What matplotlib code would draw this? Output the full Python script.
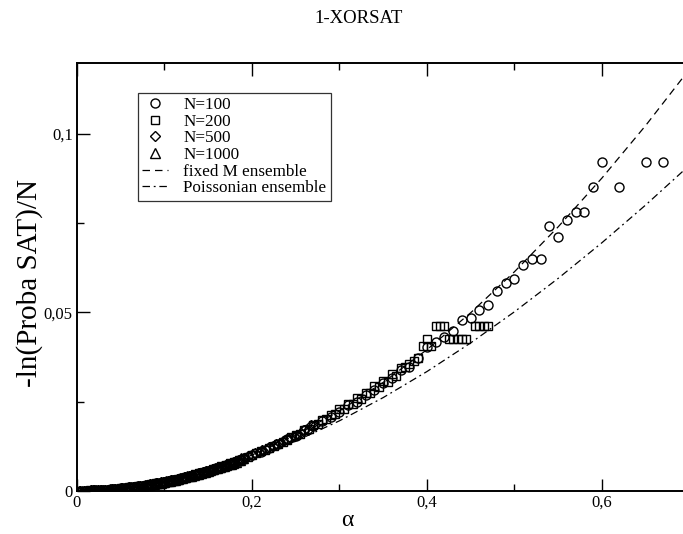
import numpy as np
import matplotlib
matplotlib.use("Agg")
import matplotlib.pyplot as plt
from matplotlib.ticker import FixedLocator, FuncFormatter

plt.rcParams['font.family'] = ['Liberation Serif', 'DejaVu Serif']

# theory curves (alpha, -ln P / N)
alpha_th = [0.0, 0.05, 0.10, 0.15, 0.20, 0.25, 0.30, 0.35, 0.40, 0.45, 0.50,
            0.55, 0.60, 0.65, 0.70]
fixed_m = [0.0, 0.000625, 0.002499, 0.005617, 0.009974, 0.015560, 0.022363,
           0.030367, 0.039553, 0.049903, 0.061393, 0.073996, 0.087674,
           0.102412, 0.118192]
poisson = [0.0, 0.000609, 0.002382, 0.005236, 0.009097, 0.013903, 0.019593,
           0.026112, 0.033411, 0.041443, 0.050166, 0.059543, 0.069538,
           0.080119, 0.091247]

# simulations, values in units of 1e-3; alpha = M/N
# N=100, every M
n100 = [0.025, 0.1, 0.22, 0.41, 0.62, 0.9, 1.22, 1.61, 2.02, 2.5,
        3.02, 3.61, 4.21, 4.91, 5.6, 6.4, 7.2, 8.1, 8.95, 9.98,
        10.9, 12.1, 13.1, 14.4, 15.4, 16.9, 18.0, 19.6, 20.7, 22.1,
        23.9, 25.0, 26.9, 28.3, 30.1, 31.5, 33.8, 34.7, 37.2, 40.2,
        41.8, 43.2, 44.8, 47.9, 48.3, 50.7, 52.1, 56.0, 58.3, 59.3,
        63.3, 64.9, 65.0, 74.1, 71.2, 75.9, 78.2, 78.2, 85.2, 92.1,
        np.nan, 85.2, np.nan, np.nan, 92.1, np.nan, 92.1]
# N=200, every M
n200 = [0.006, 0.025, 0.056, 0.1, 0.156, 0.225, 0.306, 0.4, 0.506, 0.625,
        0.756, 0.9, 1.056, 1.225, 1.406, 1.6, 1.806, 2.025, 2.256, 2.5,
        2.756, 3.025, 3.306, 3.6, 3.906, 4.225, 4.556, 4.9, 5.256, 5.62,
        5.99, 6.39, 6.79, 7.21, 7.64, 8.08, 8.54, 9.0, 9.48, 9.97,
        10.47, 10.99, 11.52, 12.06, 12.61, 13.17, 13.75, 14.34, 14.94, 15.7,
        16.0, 16.9, 17.4, 18.3, 18.7, 19.7, 20.0, 21.2, 21.4, 22.8,
        22.9, 24.3, 24.4, 25.9, 25.8, 27.5, 27.4, 29.3, 29.0, 30.8,
        30.6, 32.6, 32.2, 34.5, 34.54, 35.65, 36.32, 37.09, 40.6, 42.6,
        40.6, 46.05, 46.05, 46.05, 42.6, 42.6, 42.6, 42.6, 42.6, np.nan,
        46.05, 46.05, 46.05, 46.05]
# N=500, every second M
n500 = [0.004, 0.016, 0.037, 0.063, 0.101, 0.143, 0.197, 0.255, 0.326, 0.398,
        0.486, 0.574, 0.679, 0.781, 0.903, 1.021, 1.16, 1.29, 1.45, 1.59,
        1.77, 1.93, 2.12, 2.30, 2.51, 2.70, 2.92, 3.13, 3.37, 3.59,
        3.85, 4.09, 4.36, 4.61, 4.91, 5.17, 5.49, 5.76, 6.10, 6.38,
        6.74, 7.03, 7.42, 7.71, 8.13, 8.43, 8.87, 9.18, 9.65, 9.95,
        10.46, 10.75, 11.30, 11.60, 12.16, 12.53, 13.0, 13.45, 13.82, 14.53,
        14.84, 15.20, 15.65, 16.22, 17.03, 17.03, 18.42, 18.42]
# N=1000, every second M
n1000 = [0.001, 0.004, 0.009, 0.016, 0.026, 0.035, 0.050, 0.063, 0.082, 0.099,
         0.122, 0.143, 0.171, 0.195, 0.227, 0.254, 0.291, 0.322, 0.364, 0.398,
         0.444, 0.481, 0.532, 0.573, 0.629, 0.672, 0.733, 0.780, 0.846, 0.895,
         0.967, 1.018, 1.095, 1.150, 1.232, 1.289, 1.377, 1.437, 1.530, 1.592,
         1.690, 1.755, 1.860, 1.926, 2.036, 2.105, 2.221, 2.292, 2.414, 2.488,
         2.615, 2.691, 2.824, 2.902, 3.040, 3.121, 3.265, 3.347, 3.497, 3.582,
         3.738, 3.825, 3.986, 4.076, 4.242, 4.334, 4.506, 4.600, 4.778, 4.874,
         5.058, 5.155, 5.345, 5.444, 5.640, 5.741, 5.942, 6.046, 6.252, 6.357,
         6.570, 6.676, 6.91, 6.91, 7.13, 7.42, 7.60, 7.60, 7.82, 8.11,
         8.11, 8.52, 8.52, 9.21, 9.21]

series = [
    ("N=100", n100, 1 / 100, "o", 6.5),
    ("N=200", n200, 1 / 200, "s", 5.5),
    ("N=500", n500, 2 / 500, "D", 5.0),
    ("N=1000", n1000, 2 / 1000, "^", 6.5),
]

fig = plt.figure(figsize=(6.83, 5.34), dpi=100)
ax = fig.add_axes([0.1127, 0.0811, 0.8968, 0.8015])

for label, vals, step, mk, ms in series:
    v = np.array(vals) * 1e-3
    a = np.arange(1, len(v) + 1) * step
    ax.plot(a, v, linestyle="none", marker=mk, ms=ms, mfc="none",
            mec="black", mew=1.0, label=label)

ax.plot(alpha_th, fixed_m, color="black", lw=0.9, ls=(0, (6, 4)),
        label="fixed M ensemble")
ax.plot(alpha_th, poisson, color="black", lw=0.9, ls=(0, (6, 3, 1.5, 3)),
        label="Poissonian ensemble")

ax.set_xlim(0, 0.7)
ax.set_ylim(0, 0.12)

fmt = FuncFormatter(lambda v, p: ("%g" % round(v, 3)).replace(".", ","))
ax.xaxis.set_major_locator(FixedLocator([0, 0.2, 0.4, 0.6]))
ax.xaxis.set_minor_locator(FixedLocator([0.1, 0.3, 0.5]))
ax.yaxis.set_major_locator(FixedLocator([0, 0.05, 0.1]))
ax.yaxis.set_minor_locator(FixedLocator([0.025, 0.075]))
ax.xaxis.set_major_formatter(fmt)
ax.yaxis.set_major_formatter(fmt)
ax.tick_params(which="both", direction="in", top=True, right=False,
               labelsize=12, width=1.0, pad=3)
ax.tick_params(which="major", length=9)
ax.tick_params(which="minor", length=5)
for s in ax.spines.values():
    s.set_linewidth(1.4)

ax.set_xlabel("α", fontsize=17)
ax.xaxis.set_label_coords(0.441, -0.045)
ax.set_ylabel("-ln(Proba SAT)/N", fontsize=21)
ax.yaxis.set_label_coords(-0.055, 0.485)
fig.text(0.525, 0.965, "1-XORSAT", ha="center", va="center", fontsize=13.5)

leg = ax.legend(loc="upper left", bbox_to_anchor=(0.1, 0.93), fontsize=12.3,
                frameon=True, fancybox=False, edgecolor="black",
                handlelength=1.5, handletextpad=0.9, borderpad=0.25,
                labelspacing=0.04, borderaxespad=0)
leg.get_frame().set_linewidth(0.9)

fig.savefig("out.png", dpi=100)
